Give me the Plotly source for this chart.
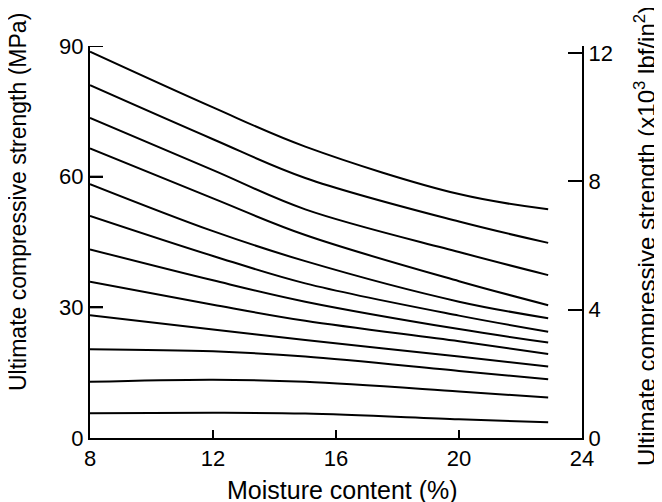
import plotly.graph_objects as go

# Moisture content (%) sample points along each curve
moisture = [8, 12, 15, 20, 22.9]

# Ultimate compressive strength (MPa), one list per curve (top to bottom)
curve_01 = [88.7, 75.9, 66.9, 56.0, 52.5]
curve_02 = [81.0, 68.6, 59.7, 49.7, 44.8]
curve_03 = [73.5, 61.5, 52.5, 42.7, 37.4]
curve_04 = [66.5, 55.0, 46.6, 36.0, 30.5]
curve_05 = [58.3, 47.5, 40.6, 31.3, 27.5]
curve_06 = [51.0, 41.8, 35.5, 28.1, 24.4]
curve_07 = [43.3, 36.2, 31.3, 25.0, 21.9]
curve_08 = [35.9, 30.6, 26.9, 22.2, 19.3]
curve_09 = [28.2, 24.9, 22.5, 18.7, 16.4]
curve_10 = [20.4, 19.9, 18.7, 15.4, 13.5]
curve_11 = [12.9, 13.4, 12.9, 10.7, 9.3]
curve_12 = [5.7, 5.8, 5.6, 4.3, 3.6]

curves = [curve_01, curve_02, curve_03, curve_04, curve_05, curve_06,
          curve_07, curve_08, curve_09, curve_10, curve_11, curve_12]

x_ticks = [8, 12, 16, 20, 24]
mpa_ticks = [0, 30, 60, 90]
ksi_ticks = [0, 4, 8, 12]
ksi_top = 12.22  # right-hand scale value at the top of the plot

FONT = "Liberation Sans, Arial, sans-serif"

X_RANGE = [8, 24]
Y_RANGE = [0, 90]
PLOT_W, PLOT_H = 492, 392  # plot area size in pixels

fig = go.Figure()
for c in curves:
    fig.add_trace(go.Scatter(
        x=moisture, y=c, mode="lines",
        line=dict(color="black", width=2, shape="spline", smoothing=1.0),
        showlegend=False, hoverinfo="skip"))

# inward tick marks on the bottom and left axes, built from the tick values
x_tick_len = 8 * (Y_RANGE[1] - Y_RANGE[0]) / PLOT_H
y_tick_len = 13 * (X_RANGE[1] - X_RANGE[0]) / PLOT_W
tx, ty = [], []
for t in x_ticks[1:-1]:
    tx += [t, t, None]
    ty += [Y_RANGE[0], Y_RANGE[0] + x_tick_len, None]
for v in mpa_ticks[1:]:
    tx += [X_RANGE[0], X_RANGE[0] + y_tick_len, None]
    ty += [v, v, None]
fig.add_trace(go.Scatter(x=tx, y=ty, mode="lines",
                         line=dict(color="black", width=2),
                         showlegend=False, hoverinfo="skip", cliponaxis=False))

# empty trace bound to the right-hand axis
fig.add_trace(go.Scatter(x=[], y=[], yaxis="y2",
                         showlegend=False, hoverinfo="skip"))

axis_common = dict(showline=True, linecolor="black", linewidth=2,
                   ticks="inside", tickcolor="black", tickwidth=2,
                   showgrid=False, zeroline=False, automargin=False,
                   tickfont=dict(family=FONT, size=22, color="black"))

# the page body has an 8px margin, so the figure is sized/placed to compensate
fig.update_layout(
    width=654, height=494,
    margin=dict(l=82, r=80, t=38, b=64),
    paper_bgcolor="white", plot_bgcolor="white",
    font=dict(family=FONT, color="black"),
    xaxis=dict(range=X_RANGE, tickvals=x_ticks, ticklen=8, **axis_common),
    yaxis=dict(range=Y_RANGE, tickvals=mpa_ticks, ticklen=13, **axis_common),
    yaxis2=dict(range=[0, ksi_top], tickvals=ksi_ticks, ticklen=14,
                side="right", overlaying="y", ticklabelstandoff=0,
                **axis_common),
    annotations=[
        dict(text="Moisture content (%)", xref="paper", yref="paper",
             x=0.514, y=-0.1327, xanchor="center", yanchor="middle",
             showarrow=False, font=dict(family=FONT, size=25, color="black")),
        dict(text="Ultimate compressive strength (MPa)", xref="paper", yref="paper",
             x=-0.1463, y=0.602, xanchor="center", yanchor="middle",
             textangle=-90, showarrow=False,
             font=dict(family=FONT, size=23, color="black")),
        dict(text="Ultimate compressive strength (x10<sup>3</sup> lbf/in<sup>2</sup>)",
             xref="paper", yref="paper",
             x=1.128, y=0.515, xanchor="center", yanchor="middle",
             textangle=-90, showarrow=False,
             font=dict(family=FONT, size=24, color="black")),
    ],
)

fig.write_html("out.html")
